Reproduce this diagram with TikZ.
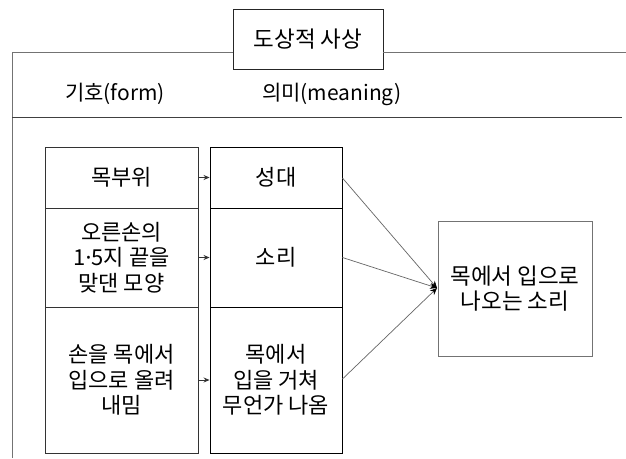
\documentclass[tikz,border=0pt]{standalone}
\usepackage{fontspec}
\setmainfont{Noto Sans CJK KR}
\newfontfamily\latinfont{Noto Sans}
\usetikzlibrary{arrows.meta}
\tikzset{
  frameline/.style={draw=black!55, line width=0.9pt},
  cellbox/.style={draw=black!80, line width=0.9pt, rectangle, inner sep=0pt, align=center, font=\fontsize{22}{25.5}\selectfont},
  mainbox/.style={draw=black!55, line width=0.9pt, rectangle, inner sep=0pt, align=center, font=\fontsize{22.5}{25.5}\selectfont},
  hdr/.style={inner sep=0pt, font=\fontsize{21}{24}\selectfont},
  smallarrow/.style={draw=black!80, line width=0.8pt, -{Stealth[length=6pt,width=5pt]}},
  convline/.style={draw=black!60, line width=0.7pt, -{Stealth[length=7pt,width=6pt,black]}}
}
\begin{document}
\begin{tikzpicture}[x=1pt, y=-1pt]
\useasboundingbox (0,0) rectangle (626,458);
\fill[white] (0,0) rectangle (626,458);
% frame
\coordinate (fbl) at (12,458);
\coordinate (ftl) at (12,52);
\coordinate (ftr) at (626,52);
\coordinate (hl) at (12,117);
\coordinate (hr) at (622,117);
\node[mainbox, draw=black!85, minimum width=150pt, minimum height=60pt] (T) at (308,39) {도상적 사상};
\draw[frameline] (fbl) -- (ftl) -- (T.west |- ftl);
\draw[frameline] (T.east |- ftr) -- (ftr);
\draw[draw=black!75, line width=1pt] (hl) -- (hr);
\node[hdr, anchor=west] (hf) at (65,94) {기호(form)};
\node[hdr, anchor=west] (hm) at (262,94) {의미(meaning)};
% left column
\node[cellbox, minimum width=153pt, minimum height=61pt] (L1) at (121.5,177.5) {목부위};
\node[cellbox, minimum width=153pt, minimum height=99pt] (L2) at (121.5,257.5) {오른손의\\1{\latinfont ·}5지 끝을\\맞댄 모양};
\node[cellbox, minimum width=153pt, minimum height=146pt] (L3) at (121.5,380) {손을 목에서\\입으로 올려\\내밈};
% middle column
\node[cellbox, draw=black, minimum width=132pt, minimum height=61pt] (M1) at (276,177.5) {성대};
\node[cellbox, draw=black, minimum width=132pt, minimum height=99pt] (M2) at (276,257.5) {소리};
\node[cellbox, draw=black, minimum width=132pt, minimum height=146pt] (M3) at (276,380) {목에서\\입을 거쳐\\무언가 나옴};
% right box
\node[mainbox, minimum width=154pt, minimum height=135pt] (R) at (515,288.5) {목에서 입으로\\나오는 소리};
\coordinate (conv) at (437,288);
% arrows
\draw[smallarrow] (L1.east) -- (M1.west);
\draw[smallarrow] (L2.east) -- (M2.west);
\draw[smallarrow] (L3.east) -- (M3.west);
\draw[convline] (M1.east) ++(0,0.5) -- (conv);
\draw[convline] (M2.east) -- (conv);
\draw[convline] (M3.east) ++(0,-1) -- (conv);
\end{tikzpicture}
\end{document}
